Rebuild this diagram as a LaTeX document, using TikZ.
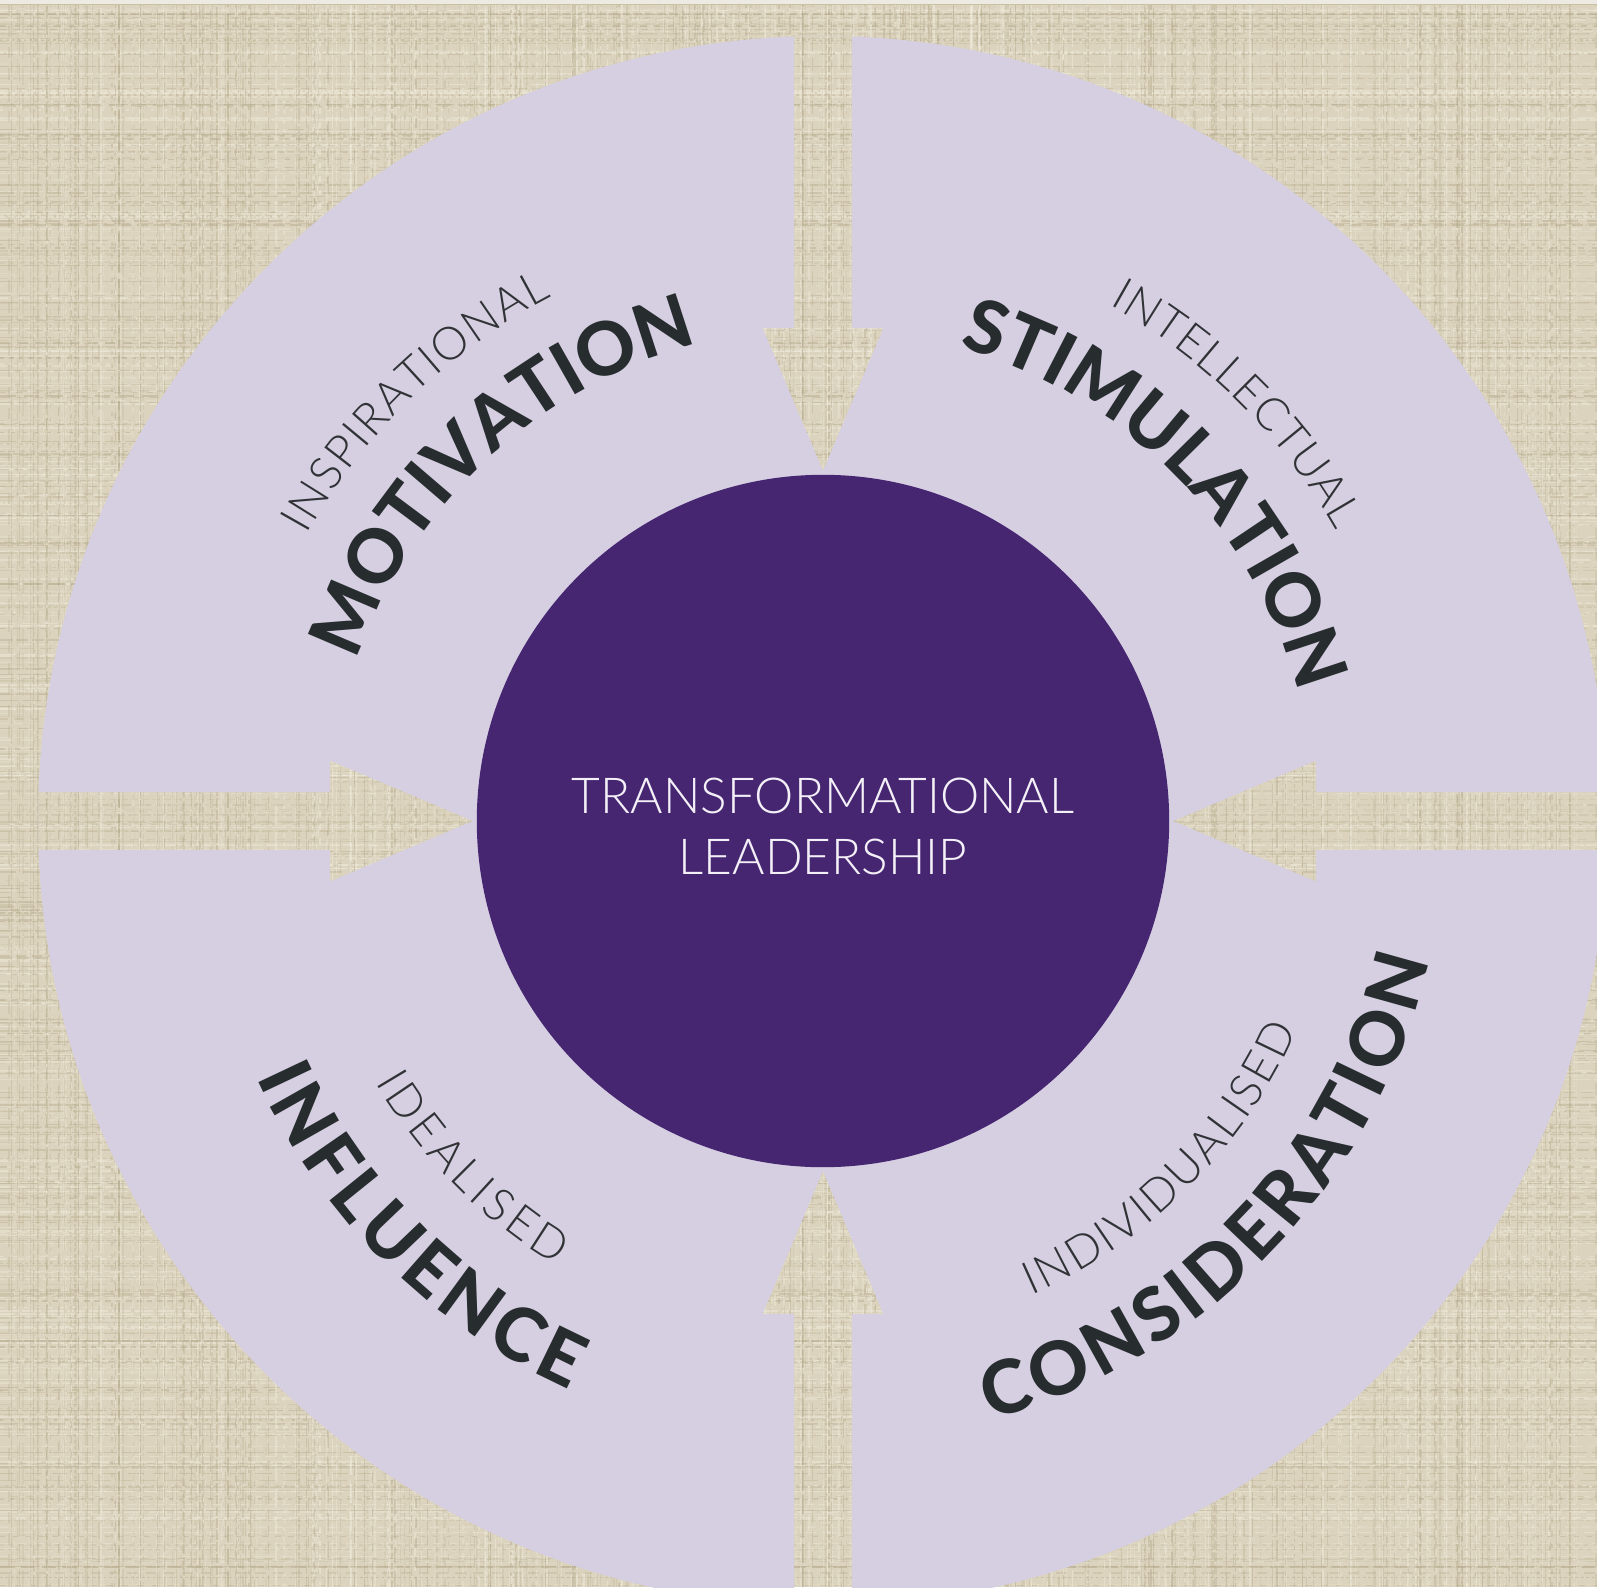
\documentclass[tikz,border=0pt]{standalone}
\usepackage{fontspec}
\setmainfont{Lato}
\newfontfamily\thinfont{Lato Light}
\newfontfamily\heavyfont{Lato Heavy}
\usetikzlibrary{decorations.text}
\definecolor{linen}{HTML}{DBD3BD}
\definecolor{threaddark}{HTML}{B3A88A}
\definecolor{threadlight}{HTML}{F3EFE2}
\definecolor{topstrip}{HTML}{ECEAE2}
\definecolor{topline}{HTML}{C9C1A2}
\definecolor{lav}{HTML}{D5CFE1}
\definecolor{core}{HTML}{472671}
\definecolor{coretext}{HTML}{F4F0F8}
\definecolor{ink}{HTML}{272C2F}
\definecolor{inkthin}{HTML}{303236}
\newcommand\boldlbl{\heavyfont\fontsize{21}{25}\selectfont\color{ink}}
\newcommand\thinlbl{\thinfont\fontsize{13}{16}\selectfont\color{inkthin}}
\tikzset{
  curvedlbl/.style={decorate, decoration={text along path, text={#1}, text align={fit to path}}},
  centerlbl/.style={anchor=base, inner sep=0pt, text=coretext, font=\thinfont\fontsize{14.1}{17}\selectfont}
}
\begin{document}
\begin{tikzpicture}[x=0.01cm,y=0.01cm]
\useasboundingbox (-823,-766) rectangle (774,821);
\clip (-823,-766) rectangle (774,821);
% linen background
\fill[linen] (-823,-766) rectangle (774,821);
\pgfmathsetseed{11}
\foreach \i in {1,...,700}{
  \pgfmathsetmacro\tpos{-766+1587*rnd}
  \pgfmathsetmacro\op{0.12+0.33*rnd}
  \pgfmathsetmacro\lw{0.2+0.35*rnd}
  \pgfmathsetmacro\da{0.8+5*rnd}
  \pgfmathsetmacro\db{0.4+2.5*rnd}
  \ifodd\i
    \draw[threaddark, opacity=\op, line width=\lw pt, dash pattern=on \da pt off \db pt] (-823,\tpos) -- (774,\tpos);
  \else
    \draw[threadlight, opacity=\op, line width=\lw pt, dash pattern=on \da pt off \db pt] (-823,\tpos) -- (774,\tpos);
  \fi
}
\foreach \i in {1,...,700}{
  \pgfmathsetmacro\tpos{-823+1597*rnd}
  \pgfmathsetmacro\op{0.12+0.33*rnd}
  \pgfmathsetmacro\lw{0.2+0.35*rnd}
  \pgfmathsetmacro\da{0.8+5*rnd}
  \pgfmathsetmacro\db{0.4+2.5*rnd}
  \ifodd\i
    \draw[threaddark, opacity=\op, line width=\lw pt, dash pattern=on \da pt off \db pt] (\tpos,-766) -- (\tpos,821);
  \else
    \draw[threadlight, opacity=\op, line width=\lw pt, dash pattern=on \da pt off \db pt] (\tpos,-766) -- (\tpos,821);
  \fi
}
\fill[topstrip] (-823,821) rectangle (774,817);
\fill[topline] (-823,817) rectangle (774,815.7);
% lavender disc with the four arrows cut out
\fill[lav, even odd rule] (0,0) circle[radius=785]
  (-29,784.5) -- (-29,493) -- (-60.5,493) -- (0,350) -- (60.5,493) -- (29,493) -- (29,784.5) -- cycle
  (-29,-784.5) -- (-29,-493) -- (-60.5,-493) -- (0,-350) -- (60.5,-493) -- (29,-493) -- (29,-784.5) -- cycle
  (-784.5,29) -- (-493,29) -- (-493,60.5) -- (-350,0) -- (-493,-60.5) -- (-493,-29) -- (-784.5,-29) -- cycle
  (784.5,29) -- (493,29) -- (493,60.5) -- (350,0) -- (493,-60.5) -- (493,-29) -- (784.5,-29) -- cycle;
% central circle
\node[circle, fill=core, inner sep=0pt, minimum size=6.92cm] (core) at (0,0) {};
\node[centerlbl] (t1) at (0,8) {TRANSFORMATIONAL};
\node[centerlbl] (t2) at (0,-53) {LEADERSHIP};
% top-left
\path[curvedlbl={|\boldlbl|MOTIVATION}] (161:493) arc[start angle=161, end angle=107, radius=493];
\path[curvedlbl={|\thinlbl|INSPIRATIONAL}] (151:590) arc[start angle=151, end angle=117.3, radius=590];
% top-right
\path[curvedlbl={|\boldlbl|STIMULATION}] (74:493) arc[start angle=74, end angle=15.5, radius=493];
\path[curvedlbl={|\thinlbl|INTELLECTUAL}] (61:590) arc[start angle=61, end angle=29.5, radius=590];
% bottom-left
\path[curvedlbl={|\boldlbl|INFLUENCE}] (204.3:622) arc[start angle=204.3, end angle=246, radius=622];
\path[curvedlbl={|\thinlbl|IDEALISED}] (210.3:518) arc[start angle=210.3, end angle=239, radius=518];
% bottom-right
\path[curvedlbl={|\boldlbl|CONSIDERATION}] (285.6:622) arc[start angle=285.6, end angle=347, radius=622];
\path[curvedlbl={|\thinlbl|INDIVIDUALISED}] (293.7:518) arc[start angle=293.7, end angle=336.2, radius=518];
\end{tikzpicture}
\end{document}
